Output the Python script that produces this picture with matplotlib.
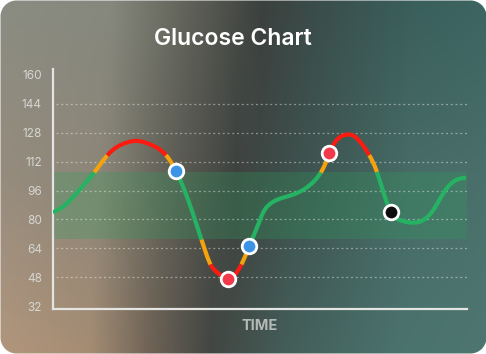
import numpy as np
import matplotlib
matplotlib.use("Agg")
import matplotlib.pyplot as plt

# glucose readings (hour of day, mg/dL)
time_hours = [0.00, 0.70, 1.28, 1.86, 2.43, 3.01, 3.59, 4.17, 4.75, 5.33,
              5.91, 6.49, 7.13, 7.55, 8.04, 8.42, 8.71, 9.10, 9.58, 10.12,
              10.74, 11.13, 11.38, 11.77, 12.16, 12.64, 13.22, 13.74, 14.32,
              14.90, 15.48, 15.77, 16.02, 16.45, 16.93, 17.51, 17.80, 18.38,
              18.77, 19.15, 19.59, 20.21, 20.79, 21.47, 22.05, 22.63, 23.21,
              23.70, 23.94]
glucose = [83.8, 88.0, 93.6, 100.0, 106.5, 113.9, 119.4, 122.2, 123.5, 122.6,
           120.3, 116.2, 106.8, 97.8, 85.2, 74.2, 65.9, 55.7, 50.2, 47.2,
           52.0, 59.4, 65.3, 74.2, 83.4, 89.0, 91.7, 93.2, 95.4,
           99.1, 105.3, 110.5, 116.6, 124.0, 126.8, 125.8, 123.0, 114.8,
           106.5, 95.0, 84.3, 79.3, 78.2, 79.7, 85.2, 94.5, 100.9,
           102.8, 103.0]

# highlighted readings (indices into the arrays above)
marker_idx = [12, 19, 22, 32, 40]
marker_colors = ["#3b93e6", "#f23a4b", "#3b93e6", "#f23a4b", "#0d0d0d"]

yticks = [32, 48, 64, 80, 96, 112, 128, 144, 160]
target_low, target_high = 69, 106
warn_low, warn_high = 55, 115.5

GREEN = "#26b263"
ORANGE = "#f4a20e"
RED = "#fc1b10"


def natural_spline(x, y, xs):
    x = np.asarray(x, float)
    y = np.asarray(y, float)
    n = len(x)
    h = np.diff(x)
    d = np.diff(y) / h
    A = np.zeros((n - 2, n - 2))
    for k in range(n - 2):
        A[k, k] = 2 * (h[k] + h[k + 1])
        if k > 0:
            A[k, k - 1] = h[k]
        if k < n - 3:
            A[k, k + 1] = h[k + 1]
    M = np.zeros(n)
    M[1:-1] = np.linalg.solve(A, 6 * np.diff(d))
    i = np.clip(np.searchsorted(x, xs) - 1, 0, n - 2)
    a = x[i + 1] - xs
    b = xs - x[i]
    hi = h[i]
    return (M[i] * a**3 / (6 * hi) + M[i + 1] * b**3 / (6 * hi)
            + (y[i] / hi - M[i] * hi / 6) * a + (y[i + 1] / hi - M[i + 1] * hi / 6) * b)


def level_color(v):
    if v > warn_high or v < warn_low:
        return RED
    if v > target_high or v < target_low:
        return ORANGE
    return GREEN


W, H = 486, 354
fig = plt.figure(figsize=(W / 100, H / 100), dpi=100, facecolor="white")

# background card: each row of the gradient has its own colour stops
top_stops = [0, 110, 180, 260, 330, 420, 486]
top_row = [(138, 140, 130), (134, 136, 126), (100, 102, 92), (60, 64, 62),
           (58, 80, 77), (58, 96, 93), (60, 100, 97)]
mid_stops = [0, 100, 165, 235, 310, 410, 486]
mid_row = [(150, 140, 126), (140, 134, 120), (98, 97, 88), (62, 66, 63),
           (62, 85, 81), (72, 108, 103), (75, 112, 107)]
bot_stops = [0, 90, 150, 210, 290, 400, 486]
bot_row = [(178, 150, 125), (165, 140, 115), (110, 98, 85), (66, 70, 66),
           (68, 95, 90), (75, 115, 110), (78, 118, 112)]
px = np.arange(W)
rows = []
for st, r in ((top_stops, top_row), (mid_stops, mid_row), (bot_stops, bot_row)):
    r = np.array(r, float)
    rows.append(np.stack([np.interp(px, st, r[:, c]) for c in range(3)], -1))
rows = np.array(rows)
py = np.arange(H)
img = np.zeros((H, W, 4))
for c in range(3):
    for j in range(W):
        img[:, j, c] = np.interp(py, [0, H / 2, H - 1], rows[:, j, c]) / 255
rad = 16
yy, xx = np.mgrid[0:H, 0:W]
cx = np.clip(xx, rad, W - 1 - rad)
cy = np.clip(yy, rad, H - 1 - rad)
dist = np.hypot(xx - cx, yy - cy)
img[..., 3] = np.clip(rad + 0.5 - dist, 0, 1)

ax_bg = fig.add_axes([0, 0, 1, 1], zorder=0)
ax_bg.imshow(img, extent=(0, W, H, 0), aspect="auto", interpolation="bilinear")
ax_bg.set_xlim(0, W)
ax_bg.set_ylim(H, 0)
ax_bg.axis("off")

left, right, top, bottom = 53, 467, 69, 309
ax = fig.add_axes([left / W, 1 - bottom / H, (right - left) / W, (bottom - top) / H], zorder=1)
ax.patch.set_alpha(0)
ax.set_xlim(0, 24)
ax.set_ylim(30.4, 163.3)

ax.axhspan(target_low, target_high, color="#2e9e5e", alpha=0.28, lw=0)
ax.hlines(yticks[1:-1], 0.2, 24, colors=(1, 1, 1, 0.4), lw=0.9,
          linestyles=(0, (1.6, 2.2)))

# colour the curve by glucose level
xs = np.linspace(time_hours[0], time_hours[-1], 1500)
ys = natural_spline(time_hours, glucose, xs)
cols = [level_color(0.5 * (ys[k] + ys[k + 1])) for k in range(len(xs) - 1)]
start = 0
for k in range(1, len(cols) + 1):
    if k == len(cols) or cols[k] != cols[start]:
        ax.plot(xs[start:k + 1], ys[start:k + 1], color=cols[start], lw=3,
                solid_capstyle="butt", zorder=3)
        start = k

for i, c in zip(marker_idx, marker_colors):
    ax.plot(time_hours[i], glucose[i], "o", ms=10.5, mfc=c, mec="white",
            mew=2, zorder=5)

for s in ["top", "right"]:
    ax.spines[s].set_visible(False)
for s in ["left", "bottom"]:
    ax.spines[s].set_color("#e4e4e2")
    ax.spines[s].set_linewidth(1.6)
ax.set_xticks([])
ax.set_yticks(yticks)
ax.tick_params(axis="y", length=0, pad=8, labelsize=8.5, labelcolor="#d6d6d2")
for t in ax.get_yticklabels():
    t.set_fontfamily(["Inter", "DejaVu Sans"])
ax.set_xlabel("TIME", color="#b4b8b6", fontsize=10.5, fontweight="bold",
              family=["Inter", "DejaVu Sans"], labelpad=7)

fig.text(233 / W, 1 - 39 / H, "Glucose Chart", color="white", fontsize=16.5,
         fontweight="semibold", ha="center", va="center",
         family=["Inter", "DejaVu Sans"])

fig.savefig("out.png", dpi=100, facecolor="white")
